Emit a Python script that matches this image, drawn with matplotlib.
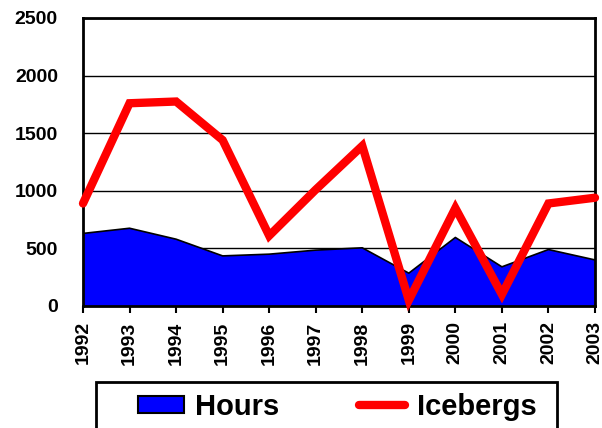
import matplotlib
matplotlib.use("Agg")
import matplotlib.pyplot as plt
from matplotlib.patches import Rectangle, Patch
from matplotlib.lines import Line2D

years = [1992, 1993, 1994, 1995, 1996, 1997, 1998, 1999, 2000, 2001, 2002, 2003]
hours = [630, 675, 580, 435, 450, 485, 505, 285, 595, 340, 490, 400]
icebergs = [890, 1760, 1775, 1440, 610, 1010, 1390, 50, 850, 100, 890, 940]
y_ticks = [0, 500, 1000, 1500, 2000, 2500]

plt.rcParams['font.family'] = ['Liberation Sans', 'DejaVu Sans']
plt.rcParams['font.weight'] = 'bold'

fig = plt.figure(figsize=(6.02, 4.28), dpi=100)
ax = fig.add_axes([83/602, 1-306/428, (595-83)/602, (306-18)/428])

ax.set_axisbelow(True)
ax.yaxis.grid(True, color='black', linewidth=1.0)
ax.fill_between(years, hours, 0, facecolor='#0000FF', edgecolor='none', zorder=2)
ax.plot(years, hours, color='black', linewidth=1.2, zorder=3)
ax.plot(years, icebergs, color='#FF0000', linewidth=6, solid_capstyle='round',
        solid_joinstyle='miter', clip_on=False, zorder=4)

ax.set_xlim(1992, 2003)
ax.set_ylim(0, 2500)
ax.set_xticks(years)
ax.set_xticklabels([str(y) for y in years], rotation=90, fontsize=14, fontweight='bold')
ax.set_yticks(y_ticks)
ax.set_yticklabels([str(v) for v in y_ticks], fontsize=14, fontweight='bold')
ax.tick_params(axis='x', length=5, width=1.5, pad=6, direction='out')
ax.tick_params(axis='y', length=0, pad=18)
for s in ax.spines.values():
    s.set_linewidth(2)
    s.set_color('black')

# legend box
rect = Rectangle((96/602, -0.1), (557-96)/602, 0.1 + (428-382)/428,
                 transform=fig.transFigure, facecolor='white', edgecolor='black',
                 linewidth=2, clip_on=False)
fig.patches.append(rect)
handles = [Patch(facecolor='#0000FF', edgecolor='black', linewidth=1.5),
           Line2D([0], [0], color='#FF0000', linewidth=6, solid_capstyle='round')]
leg = fig.legend(handles, ['Hours', 'Icebergs'], ncol=2, frameon=False,
                 loc='center', bbox_to_anchor=(337/602, 1-407/428),
                 prop={'family': 'Liberation Sans', 'weight': 'bold', 'size': 21},
                 handlelength=1.58, handleheight=0.55, handletextpad=0.38,
                 columnspacing=2.75, borderpad=0, borderaxespad=0)

fig.savefig('out.png', dpi=100)
